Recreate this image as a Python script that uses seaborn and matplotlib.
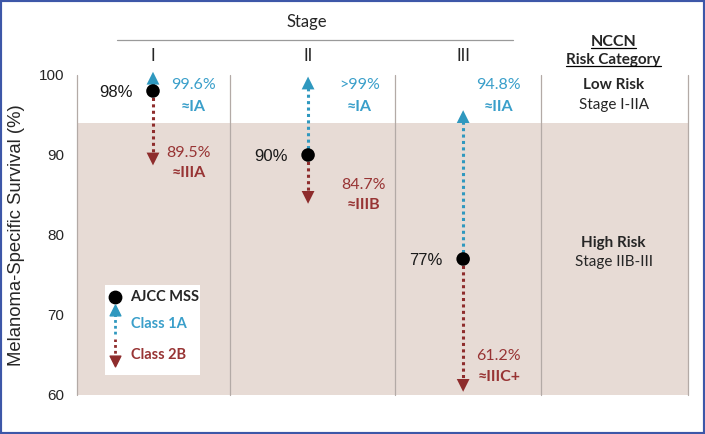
import matplotlib
matplotlib.use('Agg')
import matplotlib.pyplot as plt
import seaborn as sns
import pandas as pd
import numpy as np
from matplotlib.patches import Rectangle
from matplotlib.lines import Line2D

# data
stages = ['I', 'II', 'III']
ajcc_mss = [98, 90, 77]
class_1a = [99.6, 99, 94.8]
class_2b = [89.5, 84.7, 61.2]
ajcc_labels = ['98%', '90%', '77%']
class_1a_labels = ['99.6%', '>99%', '94.8%']
class_1a_stage = ['≈IA', '≈IA', '≈IIA']
class_2b_labels = ['89.5%', '84.7%', '61.2%']
class_2b_stage = ['≈IIIA', '≈IIIB', '≈IIIC+']
yticks = [60, 70, 80, 90, 100]
low_risk_cut = 94

BLUE = '#2f98bf'
BLUE_TXT = '#3a9fca'
RED = '#8e2c2c'
RED_TXT = '#983434'
SHADE = '#e7dbd5'
GRID = '#b3aaa6'
CAL = ['Lato', 'DejaVu Sans']
ARIAL = ['Liberation Sans', 'DejaVu Sans']

sns.set_theme(style='white')
plt.rcParams['font.family'] = CAL

df = pd.DataFrame({'stage': stages, 'pos': np.arange(len(stages)),
                   'ajcc': ajcc_mss, 'c1a': class_1a, 'c2b': class_2b})

fig = plt.figure(figsize=(7.05, 4.34), dpi=100)
ax = fig.add_axes([77 / 705, 1 - 395 / 434, 611 / 705, 320 / 434])
xl = (-0.49, 3.45)
ax.set_xlim(*xl)
ax.set_ylim(60, 100)

# background bands and column separators
ax.axhspan(60, low_risk_cut, color=SHADE, zorder=0, lw=0)
for xb in [xl[0], 0.497, 1.56, 2.50, xl[1]]:
    ax.plot([xb, xb], [60, 100], color=GRID, lw=0.9, zorder=1, clip_on=False)

# dotted arrows
dots = (0, (1, 1.1))
for _, r in df.iterrows():
    ax.plot([r.pos, r.pos], [r.ajcc, r.c1a], color=BLUE, lw=2.2, ls=dots, zorder=2, clip_on=False)
    ax.plot([r.pos, r.pos], [r.ajcc, r.c2b], color=RED, lw=2.2, ls=dots, zorder=2, clip_on=False)
sns.scatterplot(data=df, x='pos', y='c1a', marker='^', s=85, color=BLUE, edgecolor='none',
                ax=ax, zorder=3, clip_on=False, legend=False)
sns.scatterplot(data=df, x='pos', y='c2b', marker='v', s=85, color=RED, edgecolor='none',
                ax=ax, zorder=3, clip_on=False, legend=False)
sns.scatterplot(data=df, x='pos', y='ajcc', marker='o', s=95, color='black', edgecolor='none',
                ax=ax, zorder=4, legend=False)

# value labels
lab_dx = [0.26, 0.33, 0.23]
red_dx = [0.23, 0.36, 0.23]
red_y = [90.3, 86.3, 64.9]
for i in range(len(stages)):
    ax.text(i - 0.13, ajcc_mss[i] - 0.2, ajcc_labels[i], ha='right', va='center',
            fontsize=12, family=ARIAL, color='#1a1a1a')
    ax.text(i + lab_dx[i], 98.75, class_1a_labels[i], ha='center', va='center',
            fontsize=11.5, color=BLUE_TXT)
    ax.text(i + lab_dx[i], 96.0, class_1a_stage[i], ha='center', va='center',
            fontsize=11.5, color=BLUE_TXT, fontweight='bold')
    ax.text(i + red_dx[i], red_y[i], class_2b_labels[i], ha='center', va='center',
            fontsize=11.5, color=RED_TXT)
    ax.text(i + red_dx[i], red_y[i] - 2.6, class_2b_stage[i], ha='center', va='center',
            fontsize=11.5, color=RED_TXT, fontweight='bold')

# header
ax.text(0.99, 106.6, 'Stage', ha='center', va='center', fontsize=12, clip_on=False)
ax.plot([-0.23, 2.32], [104.4, 104.4], color='#9a9a9a', lw=0.9, clip_on=False)
for i, s in enumerate(stages):
    ax.text(i, 102.4, s, ha='center', va='center', fontsize=12, clip_on=False)
t1 = ax.text(2.97, 104.1, 'NCCN', ha='center', va='center', fontsize=11.5,
             fontweight='bold', clip_on=False)
t2 = ax.text(2.97, 101.85, 'Risk Category', ha='center', va='center', fontsize=11,
             fontweight='bold', clip_on=False)
ax.text(2.97, 98.75, 'Low Risk', ha='center', va='center', fontsize=11, fontweight='bold')
ax.text(2.97, 96.3, 'Stage I-IIA', ha='center', va='center', fontsize=11)
ax.text(2.97, 79.0, 'High Risk', ha='center', va='center', fontsize=11, fontweight='bold')
ax.text(2.97, 76.6, 'Stage IIB-III', ha='center', va='center', fontsize=11)

# legend box drawn by hand
ax.add_patch(Rectangle((-0.31, 62.5), 0.61, 11.25, facecolor='white', edgecolor='none', zorder=5))
lx = -0.245
ax.scatter([lx], [72.3], s=80, color='black', zorder=6)
ax.plot([lx, lx], [67.6, 70.3], color=BLUE, lw=2, ls=dots, zorder=6)
ax.scatter([lx], [70.6], marker='^', s=60, color=BLUE, zorder=6)
ax.plot([lx, lx], [64.5, 67.0], color=RED, lw=2, ls=dots, zorder=6)
ax.scatter([lx], [64.2], marker='v', s=60, color=RED, zorder=6)
ax.text(lx + 0.1, 72.3, 'AJCC MSS', ha='left', va='center', fontsize=10.5, fontweight='bold', zorder=6)
ax.text(lx + 0.1, 68.9, 'Class 1A', ha='left', va='center', fontsize=10.5, fontweight='bold',
        color=BLUE_TXT, zorder=6)
ax.text(lx + 0.1, 65.0, 'Class 2B', ha='left', va='center', fontsize=10.5, fontweight='bold',
        color=RED_TXT, zorder=6)

# axes styling
sns.despine(ax=ax, left=True, bottom=True)
ax.set_xticks([])
ax.set_yticks(yticks)
ax.set_yticklabels([str(v) for v in yticks], family=ARIAL, fontsize=11)
ax.tick_params(axis='y', length=0, pad=9)
ax.set_xlabel('')
ax.set_ylabel('Melanoma-Specific Survival (%)', family=ARIAL, fontsize=13.3, labelpad=10)

# underline the NCCN heading
fig.canvas.draw()
for t in (t1, t2):
    bb = t.get_window_extent()
    y = bb.y0 + 1
    fig.add_artist(Line2D([bb.x0 / 705, bb.x1 / 705], [y / 434, y / 434],
                          color='black', lw=0.9, transform=fig.transFigure))

# frame around figure
fig.add_artist(Rectangle((0, 0), 1, 1, transform=fig.transFigure, fill=False,
                         edgecolor='#3d57a8', lw=3))

fig.savefig('out.png', dpi=100)
